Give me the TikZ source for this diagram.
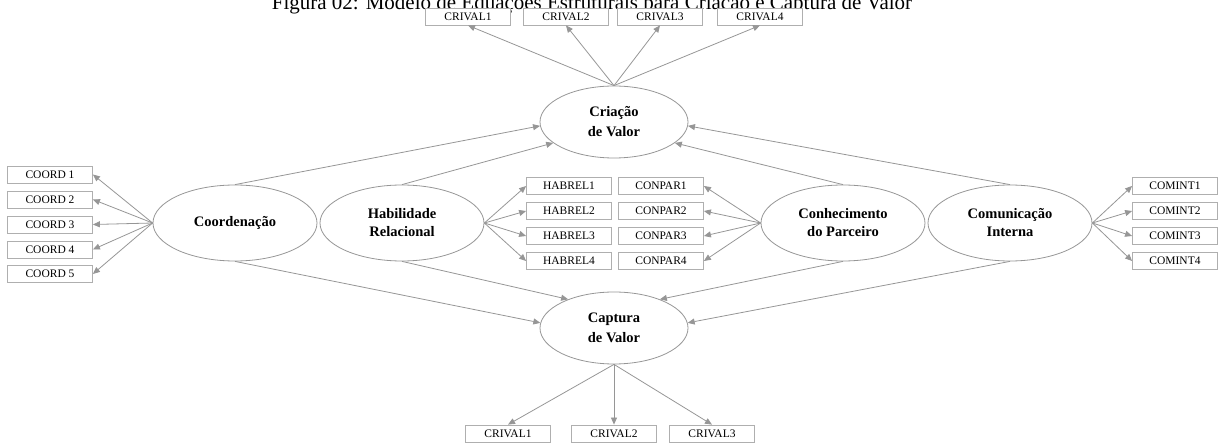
\documentclass[tikz,border=0pt]{standalone}
\usepackage{fontspec}
\setmainfont{Liberation Serif}
\usetikzlibrary{arrows.meta,shapes.geometric}
\definecolor{ln}{RGB}{150,150,150}
\definecolor{bx}{RGB}{175,175,175}
\tikzset{
  ind/.style={draw=bx, fill=white, line width=0.8pt, minimum width=85pt, minimum height=17pt, inner sep=0pt, font=\fontsize{11.5}{12}\selectfont},
  lat/.style={ellipse, draw=ln, line width=0.8pt, minimum width=164pt, minimum height=76pt, inner sep=0pt, font=\fontsize{14.5}{18}\selectfont\bfseries, align=center},
  dep/.style={lat, minimum width=148pt, minimum height=72pt, font=\fontsize{14.5}{20}\selectfont\bfseries},
  arr/.style={draw=ln, line width=0.8pt, -{Triangle[length=7pt,width=6pt]}}
}
\begin{document}
\begin{tikzpicture}[x=1pt,y=-1pt]
\useasboundingbox (0,0) rectangle (1219,443);
\node[font=\fontsize{21}{23}\selectfont, anchor=base] (title) at (592,9.5) {Figura 02: Modelo de Equações Estruturais para Criação e Captura de Valor};
% latent variables
\node[dep] (cria) at (614,122) {Criação\\de Valor};
\node[dep] (capt) at (614,328) {Captura\\de Valor};
\node[lat] (coord) at (235,223) {Coordenação};
\node[lat] (habil) at (402,223) {Habilidade\\Relacional};
\node[lat] (conh) at (843,223) {Conhecimento\\do Parceiro};
\node[lat] (comu) at (1010,223) {Comunicação\\Interna};
% top indicators
\node[ind] (t1) at (468,16.5) {CRIVAL1};
\node[ind] (t2) at (566,16.5) {CRIVAL2};
\node[ind] (t3) at (660,16.5) {CRIVAL3};
\node[ind] (t4) at (760,16.5) {CRIVAL4};
% bottom indicators
\node[ind] (b1) at (508,433.5) {CRIVAL1};
\node[ind] (b2) at (614,433.5) {CRIVAL2};
\node[ind] (b3) at (712,433.5) {CRIVAL3};
% coordenacao indicators
\node[ind] (c1) at (50,174.5) {COORD 1};
\node[ind] (c2) at (50,199.5) {COORD 2};
\node[ind] (c3) at (50,224.5) {COORD 3};
\node[ind] (c4) at (50,249.5) {COORD 4};
\node[ind] (c5) at (50,274) {COORD 5};
% habrel
\node[ind] (h1) at (569,186) {HABREL1};
\node[ind] (h2) at (569,211) {HABREL2};
\node[ind] (h3) at (569,236) {HABREL3};
\node[ind] (h4) at (569,261) {HABREL4};
% conpar
\node[ind] (p1) at (661,186) {CONPAR1};
\node[ind] (p2) at (661,211) {CONPAR2};
\node[ind] (p3) at (661,236) {CONPAR3};
\node[ind] (p4) at (661,261) {CONPAR4};
% comint
\node[ind] (m1) at (1175,186) {COMINT1};
\node[ind] (m2) at (1175,211) {COMINT2};
\node[ind] (m3) at (1175,236) {COMINT3};
\node[ind] (m4) at (1175,261) {COMINT4};
% loadings
\foreach \n in {t1,t2,t3,t4} \draw[arr] (cria.north) -- (\n.south);
\foreach \n in {b1,b2,b3} \draw[arr] (capt.south) -- (\n.north);
\foreach \n in {c1,c2,c3,c4,c5} \draw[arr] (coord.west) -- (\n.east);
\foreach \n in {h1,h2,h3,h4} \draw[arr] (habil.east) -- (\n.west);
\foreach \n in {p1,p2,p3,p4} \draw[arr] (conh.west) -- (\n.east);
\foreach \n in {m1,m2,m3,m4} \draw[arr] (comu.east) -- (\n.west);
% structural paths
\draw[arr] (coord.north) -- (cria.183);
\draw[arr] (habil.north) -- (cria.199);
\draw[arr] (conh.north) -- (cria.341);
\draw[arr] (comu.north) -- (cria.357);
\draw[arr] (coord.south) -- (capt.176);
\draw[arr] (habil.south) -- (capt.148);
\draw[arr] (conh.south) -- (capt.32);
\draw[arr] (comu.south) -- (capt.4);
\end{tikzpicture}
\end{document}
